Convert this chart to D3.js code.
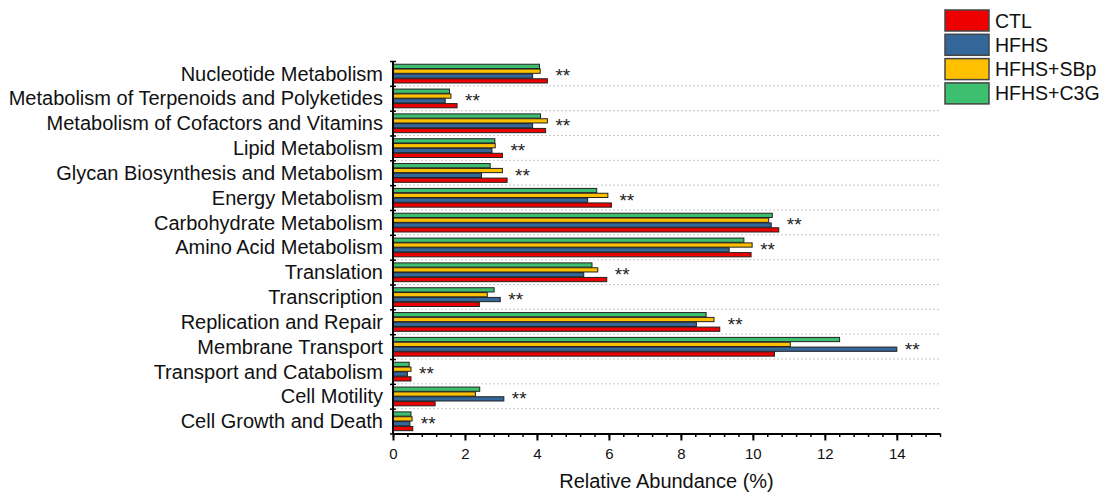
<!DOCTYPE html>
<html>
<head>
<meta charset="utf-8">
<script src="https://cdn.jsdelivr.net/npm/d3@7"></script>
<style>
  body { margin: 0; background: #fff; }
  svg { font-family: "Liberation Sans", Arial, sans-serif; }
</style>
</head>
<body>
<svg id="chart" width="1109" height="497"></svg>
<script>
var categories = [
    "Nucleotide Metabolism",
    "Metabolism of Terpenoids and Polyketides",
    "Metabolism of Cofactors and Vitamins",
    "Lipid Metabolism",
    "Glycan Biosynthesis and Metabolism",
    "Energy Metabolism",
    "Carbohydrate Metabolism",
    "Amino Acid Metabolism",
    "Translation",
    "Transcription",
    "Replication and Repair",
    "Membrane Transport",
    "Transport and Catabolism",
    "Cell Motility",
    "Cell Growth and Death"
];
var seriesNames = ["CTL", "HFHS", "HFHS+SBp", "HFHS+C3G"];
var seriesColors = ["#ee0000", "#336699", "#ffc000", "#3cbf6e"];

var ctl  = [4.29, 1.78, 4.24, 3.04, 3.17, 6.07, 10.72, 9.95, 5.94, 2.40, 9.08, 10.60, 0.50, 1.17, 0.55];
var hfhs = [3.88, 1.45, 3.88, 2.75, 2.46, 5.41, 10.51, 9.34, 5.30, 2.98, 8.43, 14.00, 0.40, 3.08, 0.47];
var sbp  = [4.09, 1.61, 4.29, 2.84, 3.04, 5.97, 10.44, 9.98, 5.69, 2.62, 8.92, 11.04, 0.50, 2.29, 0.53];
var c3g  = [4.07, 1.57, 4.10, 2.83, 2.70, 5.66, 10.54, 9.75, 5.53, 2.81, 8.70, 12.41, 0.45, 2.41, 0.50];
var significance = ["**", "**", "**", "**", "**", "**", "**", "**", "**", "**", "**", "**", "**", "**", "**"];

var xMajorTicks = [0, 2, 4, 6, 8, 10, 12, 14];
var xMax = 15.2;
var xTitle = "Relative Abundance (%)";

(function () {
    var svg = d3.select("#chart");
    var values = [ctl, hfhs, sbp, c3g];

    var plot = {left: 393, right: 940, top: 61, bottom: 433.5};

    var x = d3.scaleLinear().domain([0, xMax]).range([plot.left, plot.right]);
    var y0 = d3.scaleBand().domain(categories)
        .range([plot.top, plot.bottom])
        .paddingInner(0.22).paddingOuter(0.11);
    // bars inside a group go top to bottom: C3G, SBp, HFHS, CTL
    var y1 = d3.scaleBand().domain([3, 2, 1, 0]).range([0, y0.bandwidth()]);
    var yEdge = d3.scaleLinear().domain([0, categories.length]).range([plot.top, plot.bottom]);

    // dotted separators between groups
    svg.append("g").selectAll("line")
        .data(d3.range(1, categories.length))
        .join("line")
        .attr("x1", plot.left).attr("x2", plot.right)
        .attr("y1", function (d) { return yEdge(d); })
        .attr("y2", function (d) { return yEdge(d); })
        .attr("stroke", "#c8c8c8")
        .attr("stroke-width", 1)
        .attr("stroke-dasharray", "2,2");

    // bars
    var groups = svg.append("g").selectAll("g")
        .data(categories)
        .join("g")
        .attr("transform", function (d) { return "translate(0," + y0(d) + ")"; });

    groups.selectAll("rect")
        .data(function (d, i) {
            return [3, 2, 1, 0].map(function (s) { return {s: s, v: values[s][i]}; });
        })
        .join("rect")
        .attr("x", x(0))
        .attr("y", function (d) { return y1(d.s) + 0.5; })
        .attr("width", function (d) { return x(d.v) - x(0); })
        .attr("height", y1.bandwidth() - 0.6)
        .attr("fill", function (d) { return seriesColors[d.s]; })
        .attr("stroke", "#222")
        .attr("stroke-width", 1);

    // significance marks
    svg.append("g").selectAll("text")
        .data(categories)
        .join("text")
        .attr("x", function (d, i) {
            return x(Math.max(ctl[i], hfhs[i], sbp[i], c3g[i])) + 8;
        })
        .attr("y", function (d) { return y0(d) + y0.bandwidth() / 2 + 9; })
        .attr("font-size", 19)
        .attr("fill", "#222")
        .text(function (d, i) { return significance[i]; });

    // y axis: labels centred on groups, ticks on group edges
    var yAxis = svg.append("g")
        .attr("transform", "translate(" + plot.left + ",0)")
        .call(d3.axisLeft(y0).tickSize(0).tickPadding(10));
    yAxis.select(".domain").remove();
    yAxis.selectAll("text")
        .attr("font-size", 20)
        .attr("fill", "#111")
        .attr("dy", "0.36em");

    [d3.axisLeft, d3.axisRight].forEach(function (ax) {
        var g = svg.append("g")
            .attr("transform", "translate(" + plot.left + ",0)")
            .call(ax(yEdge).tickValues(d3.range(categories.length + 1)).tickSize(3).tickFormat(""));
        g.select(".domain").remove();
        g.selectAll("line").attr("stroke", "#000").attr("stroke-width", 1.5);
    });

    svg.append("line")
        .attr("x1", plot.left).attr("x2", plot.left)
        .attr("y1", plot.top).attr("y2", plot.bottom)
        .attr("stroke", "#000").attr("stroke-width", 2);

    // x axis
    var minorTicks = d3.range(0, xMax + 0.001, 0.4);
    var xMinor = svg.append("g")
        .attr("transform", "translate(0," + plot.bottom + ")")
        .call(d3.axisBottom(x).tickValues(minorTicks).tickSize(3.5).tickFormat(""));
    xMinor.select(".domain").remove();
    xMinor.selectAll("line").attr("stroke-width", 1.5);

    var xAxis = svg.append("g")
        .attr("transform", "translate(0," + plot.bottom + ")")
        .call(d3.axisBottom(x).tickValues(xMajorTicks).tickSize(7).tickSizeOuter(0).tickPadding(8));
    xAxis.select(".domain").attr("stroke-width", 2);
    xAxis.selectAll("line").attr("stroke-width", 2);
    xAxis.selectAll("text").attr("font-size", 15).attr("fill", "#111");

    svg.append("text")
        .attr("x", (plot.left + plot.right) / 2)
        .attr("y", 488)
        .attr("text-anchor", "middle")
        .attr("font-size", 20)
        .attr("fill", "#111")
        .text(xTitle);

    // legend
    var legend = svg.append("g").attr("transform", "translate(945,10)");
    var items = legend.selectAll("g")
        .data(seriesNames)
        .join("g")
        .attr("transform", function (d, i) { return "translate(0," + (i * 24.3) + ")"; });
    items.append("rect")
        .attr("width", 44).attr("height", 21)
        .attr("fill", function (d, i) { return seriesColors[i]; })
        .attr("stroke", "#444")
        .attr("stroke-width", 1.5);
    items.append("text")
        .attr("x", 50).attr("y", 17.5)
        .attr("font-size", 19.5)
        .attr("fill", "#111")
        .text(function (d) { return d; });
}());
</script>
</body>
</html>
